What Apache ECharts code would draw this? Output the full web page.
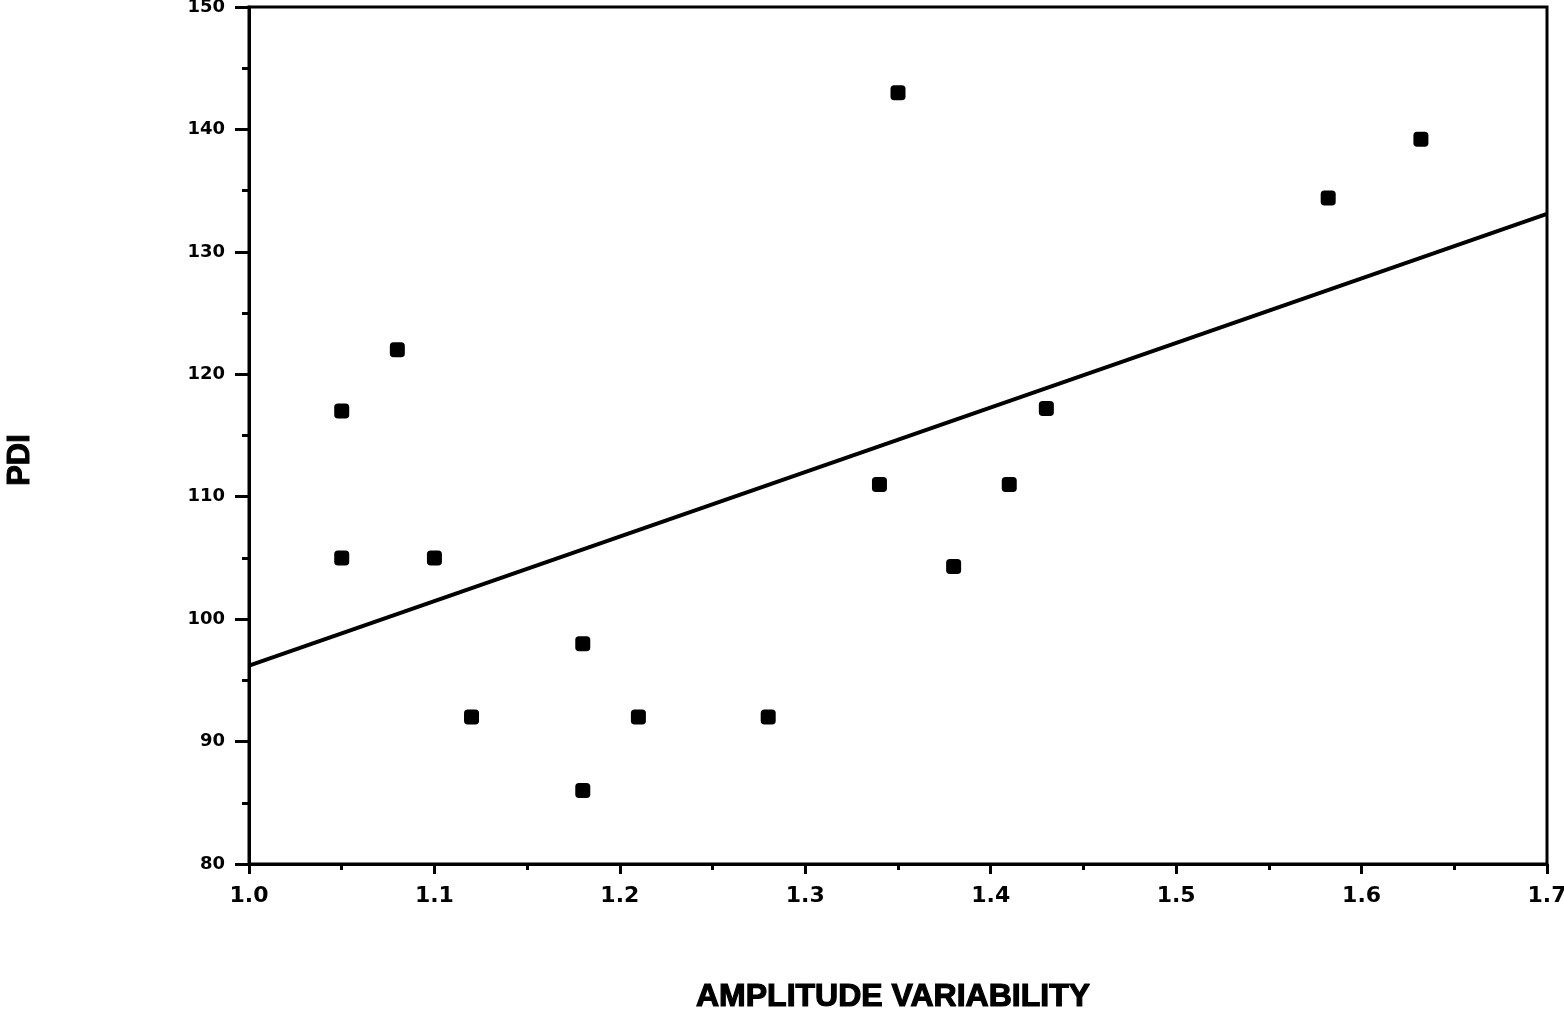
<!DOCTYPE html>
<html>
<head>
<meta charset="utf-8">
<script src="https://cdn.jsdelivr.net/npm/echarts@6/dist/echarts.min.js"></script>
<style>
  html, body { margin: 0; padding: 0; background: #fff; }
  #chart { width: 1564px; height: 1015px; }
</style>
</head>
<body>
<div id="chart"></div>
<script>
// Observed amplitude variability vs. PDI for each subject
const amplitudeVariability = [1.05, 1.05, 1.08, 1.10, 1.12, 1.18, 1.18, 1.21, 1.28, 1.34, 1.35, 1.38, 1.41, 1.43, 1.582, 1.632];
const pdiValues = [117, 105, 122, 105, 92, 98, 86, 92, 92, 111, 143, 104.3, 111, 117.2, 134.4, 139.2];

// Fitted regression line, given by its end points
const fitX = [1.0, 1.7];
const fitY = [96.2, 133.1];

const xTickLabels = ['1.0', '1.1', '1.2', '1.3', '1.4', '1.5', '1.6', '1.7'];

const points = amplitudeVariability.map((x, i) => [x, pdiValues[i]]);
const fitLine = fitX.map((x, i) => [x, fitY[i]]);

const chart = echarts.init(document.getElementById('chart'));
const sansFam = '"Liberation Sans", Arial, Helvetica, sans-serif';
const tickFam = '"DejaVu Sans", sans-serif';

chart.setOption({
  backgroundColor: '#fff',
  animation: false,
  grid: {
    left: 249, right: 17, top: 7, bottom: 151,
    containLabel: false, outerBoundsMode: 'none',
    show: true, borderColor: '#000', borderWidth: 3, backgroundColor: 'transparent'
  },
  xAxis: {
    type: 'value', min: 1.0, max: 1.7, interval: 0.1,
    axisLine: { lineStyle: { color: '#000', width: 3 } },
    axisTick: { show: true, inside: false, length: 10, lineStyle: { color: '#000', width: 3 } },
    minorTick: { show: true, splitNumber: 2, length: 6, lineStyle: { color: '#000', width: 3 } },
    splitLine: { show: false },
    axisLabel: {
      margin: 21, color: '#000', fontFamily: tickFam, fontWeight: 'bold', fontSize: 22,
      formatter: v => xTickLabels[Math.round((v - 1.0) * 10)] || ''
    }
  },
  yAxis: {
    type: 'value', min: 80, max: 150, interval: 10,
    axisLine: { lineStyle: { color: '#000', width: 3 } },
    axisTick: { show: true, inside: false, length: 14, lineStyle: { color: '#000', width: 3 } },
    minorTick: { show: true, splitNumber: 2, length: 7, lineStyle: { color: '#000', width: 3 } },
    splitLine: { show: false },
    axisLabel: {
      margin: 24, color: '#000', fontFamily: tickFam, fontWeight: 'bold', fontSize: 18
    }
  },
  graphic: [
    {
      type: 'text', x: 893, y: 997,
      style: {
        text: 'AMPLITUDE VARIABILITY', fill: '#000', align: 'center', verticalAlign: 'middle',
        font: 'bold 32px ' + sansFam, stroke: '#000', lineWidth: 1.2
      }
    },
    {
      type: 'text', x: 20, y: 460, rotation: Math.PI / 2,
      style: {
        text: 'PDI', fill: '#000', align: 'center', verticalAlign: 'middle',
        font: 'bold 31px ' + sansFam, stroke: '#000', lineWidth: 1
      }
    }
  ],
  series: [
    {
      type: 'line', data: fitLine, showSymbol: false, symbol: 'none',
      lineStyle: { color: '#000', width: 4 }, silent: true, z: 2
    },
    {
      type: 'scatter', data: points, symbol: 'roundRect', symbolSize: 15,
      itemStyle: { color: '#000', opacity: 1 }, z: 3
    }
  ]
});
</script>
</body>
</html>
